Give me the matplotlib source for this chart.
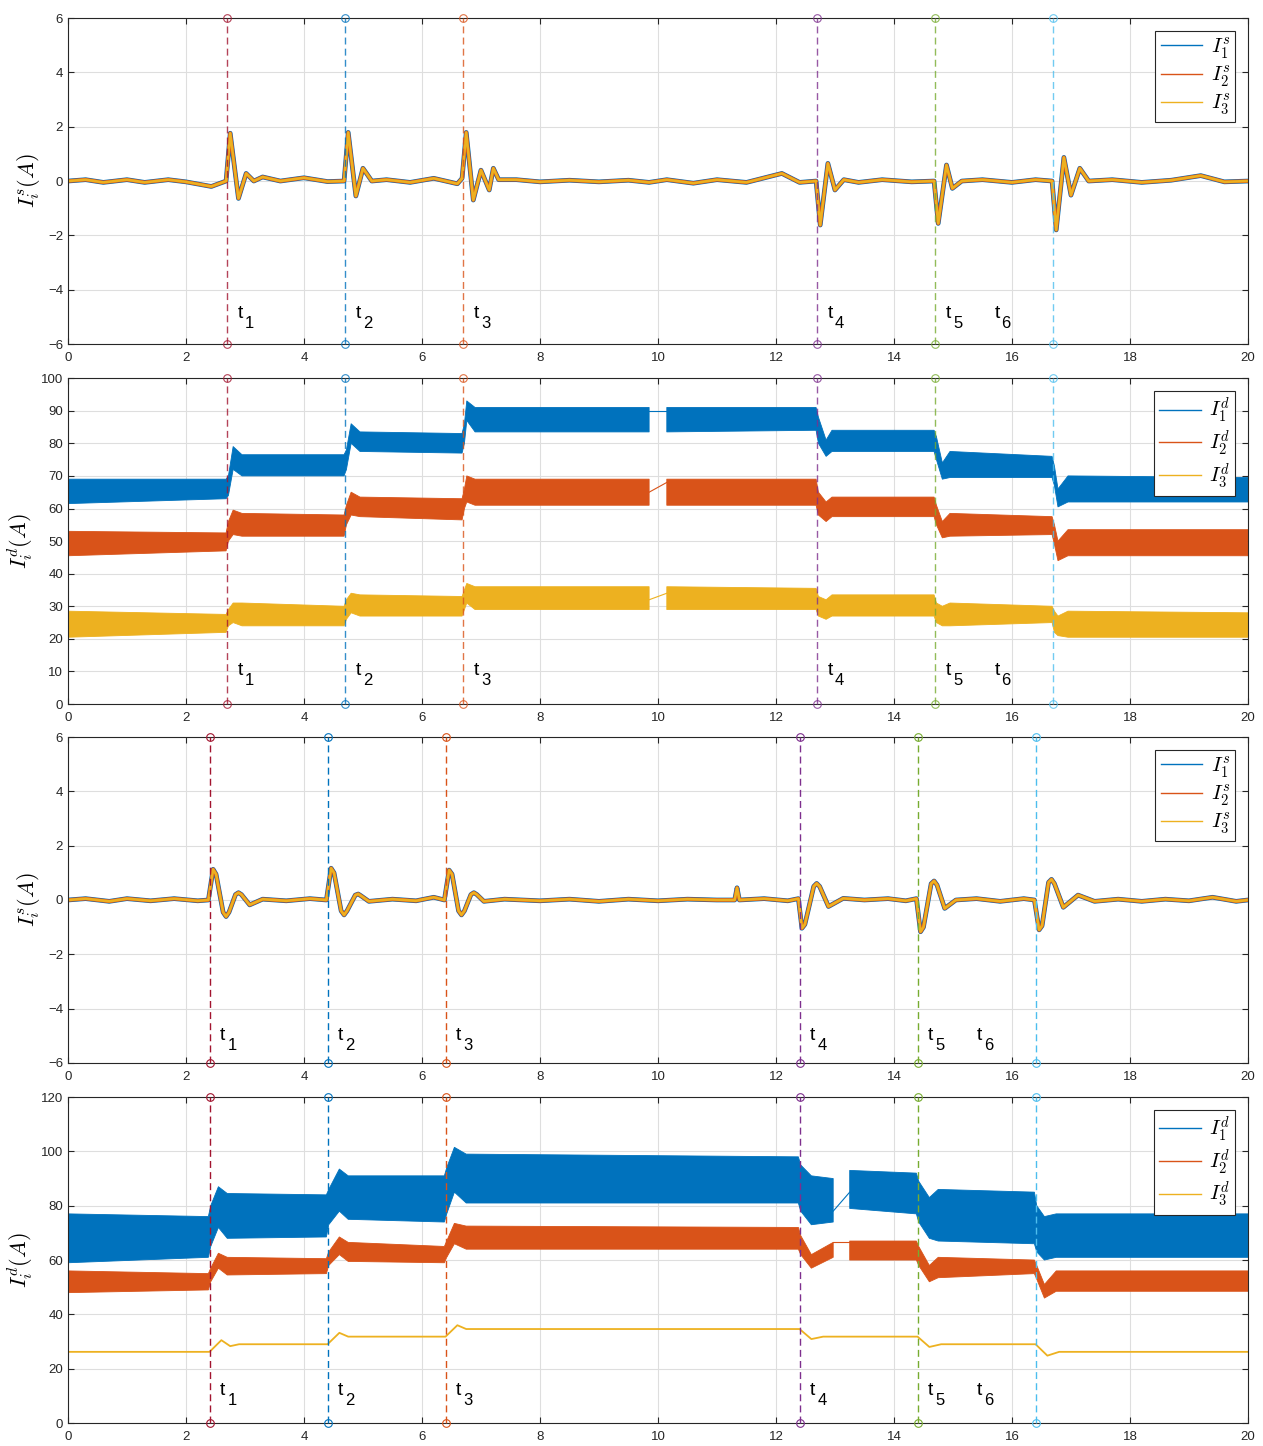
"""Four stacked panels: per-inverter currents I^s and I^d vs time, with the six
load-change instants t1..t6 marked by dashed coloured lines."""
import matplotlib

matplotlib.use("Agg")
import matplotlib.pyplot as plt
import numpy as np
from matplotlib.lines import Line2D

plt.rcParams["font.family"] = ["Liberation Sans", "DejaVu Sans"]
plt.rcParams["mathtext.fontset"] = "cm"

nan = np.nan
C1, C2, C3 = "#0072BD", "#D95319", "#EDB120"
EV_COLORS = ["#A2142F", "#0072BD", "#D95319", "#7E2F8E", "#77AC30", "#4DBEEE"]

# ---- event instants (panels 1-2 and panels 3-4) ----
events_a = [2.7, 4.7, 6.7, 12.7, 14.7, 16.7]
events_b = [2.4, 4.4, 6.4, 12.4, 14.4, 16.4]
label_x_a = [2.88, 4.88, 6.88, 12.88, 14.88, 15.7]
label_x_b = [2.58, 4.58, 6.58, 12.58, 14.58, 15.4]

# ---- panel 1: I^s (three currents overlap within the line width) ----
ts1 = [0, 0.3, 0.6, 1.0, 1.3, 1.7, 2.0, 2.43, 2.68, 2.75, 2.89, 3.02, 3.15, 3.3, 3.6, 4.0, 4.4,
       4.68, 4.75, 4.88, 5.0, 5.15, 5.4, 5.8, 6.2, 6.6, 6.68, 6.75, 6.87, 7.0, 7.14, 7.21, 7.3,
       7.6, 8.0, 8.5, 9.0, 9.5, 9.85, 10.15, 10.6, 11.0, 11.5, 12.1, 12.4, 12.68, 12.75, 12.88,
       13.0, 13.15, 13.4, 13.8, 14.3, 14.68, 14.75, 14.89, 14.99, 15.15, 15.5, 16.0, 16.4, 16.68,
       16.75, 16.88, 17.0, 17.15, 17.3, 17.7, 18.2, 18.7, 19.2, 19.6, 20]
is1 = [0.0, 0.05, -0.05, 0.05, -0.05, 0.05, -0.03, -0.2, 0.0, 1.76, -0.64, 0.28, 0.0, 0.15, 0.0, 0.12, -0.02,
       0.0, 1.79, -0.55, 0.47, 0.0, 0.05, -0.05, 0.1, -0.1, 0.1, 1.79, -0.7, 0.4, -0.33, 0.47, 0.05,
       0.05, -0.03, 0.03, -0.03, 0.03, -0.05, 0.05, -0.08, 0.05, -0.05, 0.28, -0.05, 0.0, -1.62, 0.65,
       -0.33, 0.05, -0.05, 0.05, -0.03, 0.0, -1.56, 0.59, -0.27, 0.0, 0.05, -0.05, 0.05, 0.0,
       -1.8, 0.87, -0.52, 0.47, 0.0, 0.05, -0.05, 0.03, 0.2, -0.03, 0.0]

# ---- panel 2: I^d, noisy -> lower / upper envelope ----
ta = [0, 2.68, 2.72, 2.8, 2.95, 4.68, 4.72, 4.8, 4.95, 6.68, 6.72, 6.76, 6.9, 9.85, 9.9, 10.1, 10.15,
      12.68, 12.72, 12.85, 12.95, 14.68, 14.72, 14.82, 14.95, 16.68, 16.72, 16.78, 16.95, 20]
a_i1_lo = [61.5, 63, 64, 72, 70, 70, 72, 80, 77.5, 77, 80, 87, 83.5, 83.5, nan, nan, 83.5,
           84, 80, 76, 77.5, 77.5, 75, 69, 69.5, 69.5, 67, 60.5, 62, 62]
a_i1_hi = [69, 69, 70, 79, 76.5, 76.5, 78, 86, 83.5, 83, 86, 93, 91, 91, nan, nan, 91,
           91, 88, 81, 84, 84, 82, 74, 77.5, 76, 73, 66, 70, 69.5]
a_i2_lo = [45.5, 47, 50, 52, 51.5, 51.5, 55, 58, 57.5, 56.5, 60, 62, 61, 61, nan, nan, 61,
           61, 58, 56, 57.5, 57.5, 55, 51, 51.5, 52, 49, 44, 45.5, 45.5]
a_i2_hi = [53, 52.5, 56, 59.5, 58.5, 58, 61, 65, 63.5, 63, 66, 70, 69, 69, nan, nan, 69,
           69, 65, 62, 63.5, 63.5, 61, 56, 58.5, 57.5, 55, 50, 53.5, 53.5]
a_i3_lo = [20.5, 22, 24, 25, 24, 24, 26, 28, 27, 27, 29, 31, 29, 29, nan, nan, 29,
           29, 27, 26, 27, 27, 25, 24, 24, 25, 22, 21, 20.5, 20.5]
a_i3_hi = [28.5, 27.5, 29, 31, 31, 30, 32, 34, 33.5, 33, 35, 37, 36, 36, nan, nan, 36,
           35.5, 33, 32, 33.5, 33.5, 31, 30, 31, 30, 28.5, 27, 28.5, 28]
gap_ta = [9.85, 10.15]
gap_a_i1 = [90, 90]
gap_a_i2 = [65, 68]
gap_a_i3 = [32, 34]

# ---- panel 3: I^s ----
ts3 = [0, 0.3, 0.7, 1.0, 1.4, 1.8, 2.2, 2.38, 2.46, 2.51, 2.63, 2.68, 2.73, 2.84, 2.89, 2.94, 3.08,
       3.3, 3.7, 4.1, 4.38, 4.46, 4.51, 4.63, 4.68, 4.73, 4.87, 4.92, 4.97, 5.1, 5.5, 5.9, 6.2,
       6.38, 6.46, 6.51, 6.62, 6.67, 6.72, 6.83, 6.88, 6.93, 7.05, 7.4, 8.0, 8.5, 9.0, 9.5,
       10.0, 10.5, 11.0, 11.3, 11.34, 11.38, 11.8, 12.2, 12.38, 12.44, 12.49, 12.64, 12.69,
       12.74, 12.89, 13.14, 13.5, 13.9, 14.2, 14.38, 14.45, 14.5, 14.63, 14.68, 14.73, 14.86,
       15.05, 15.4, 15.8, 16.2, 16.38, 16.46, 16.51, 16.62, 16.67, 16.72, 16.87, 17.12, 17.4,
       17.8, 18.2, 18.6, 19.0, 19.4, 19.8, 20]
is3 = [0.0, 0.05, -0.05, 0.05, -0.03, 0.05, -0.03, 0.0, 1.13, 0.95, -0.45, -0.61, -0.45, 0.2, 0.27, 0.2, -0.18,
       0.03, -0.03, 0.05, 0.0, 1.17, 1.0, -0.4, -0.55, -0.4, 0.18, 0.22, 0.15, -0.05, 0.03, -0.03, 0.1,
       0.0, 1.1, 0.95, -0.4, -0.55, -0.4, 0.2, 0.27, 0.2, -0.05, 0.03, -0.03, 0.03, -0.05, 0.03,
       -0.03, 0.03, 0.0, 0.0, 0.45, 0.0, 0.05, -0.03, 0.05, -1.04, -0.9, 0.5, 0.61,
       0.5, -0.24, 0.06, 0.0, 0.05, -0.03, 0.05, -1.17, -1.0, 0.6, 0.7, 0.55, -0.31,
       0.0, 0.05, -0.05, 0.05, 0.0, -1.1, -0.95, 0.65, 0.76, 0.6, -0.27, 0.18, -0.05,
       0.03, -0.05, 0.03, -0.03, 0.1, -0.05, 0.0]

# ---- panel 4: I^d ----
tb = [0, 2.38, 2.42, 2.55, 2.7, 4.38, 4.42, 4.6, 4.75, 6.38, 6.42, 6.55, 6.75, 12.38, 12.42, 12.6,
      12.97, 13.0, 13.22, 13.25, 14.38, 14.42, 14.6, 14.75, 16.38, 16.42, 16.55, 16.75, 20]
b_i1_lo = [59, 61, 65, 72, 68, 68.5, 73, 78, 75, 74, 77, 85, 81, 81, 78, 73,
           74, nan, nan, 79, 77, 74, 68, 67, 66, 63, 60, 61, 61]
b_i1_hi = [77, 76, 80, 87, 84.5, 84, 86, 93.5, 91, 91, 94, 101.5, 99, 98, 95, 91,
           90, nan, nan, 93, 92, 89, 83, 86, 85, 80, 76, 77, 77]
b_i2_lo = [48, 49, 52, 57, 54.5, 55, 58, 62, 59.5, 59, 61, 66, 64, 64, 62, 57,
           61, nan, nan, 60, 60, 58, 52, 53.5, 55, 53, 46, 48.5, 48.5]
b_i2_hi = [56, 55, 57, 62.5, 61, 60.5, 63, 68.5, 66.5, 65, 67, 73.5, 72.5, 72, 69, 62,
           66.5, nan, nan, 67, 67, 65, 58, 61, 60, 58, 51, 56, 56]
gap_tb = [12.97, 13.25]
gap_b_i1 = [78, 85]
gap_b_i2 = [66.5, 66.5]
tb3 = [0, 2.4, 2.6, 2.75, 2.9, 4.4, 4.6, 4.75, 6.4, 6.6, 6.75, 12.4, 12.6, 12.8,
       14.4, 14.6, 14.8, 16.4, 16.6, 16.8, 20]
b_i3 = [26.2, 26.2, 30.5, 28.3, 29, 29, 33.2, 31.8, 31.8, 36, 34.6, 34.6, 30.9, 31.8,
        31.8, 28, 29, 29, 24.8, 26.2, 26.2]


def style_axes(ax, ylim, yticks):
    ax.set_xlim(0, 20)
    ax.set_ylim(*ylim)
    ax.set_xticks(np.arange(0, 21, 2))
    ax.set_yticks(yticks)
    ax.grid(True, color="#dedede", lw=0.8)
    ax.set_axisbelow(True)
    ax.tick_params(direction="in", top=True, right=True, length=4, width=0.8,
                   colors="#262626", labelsize=9.5)
    ax.tick_params(axis="x", pad=6)
    for s in ax.spines.values():
        s.set_color("#262626")
        s.set_linewidth(0.8)


def draw_events(ax, times, ylim, label_x, label_y, alpha):
    for i, t in enumerate(times):
        ax.plot([t, t], ylim, color=EV_COLORS[i], ls=(0, (5, 3)), lw=1.0, alpha=alpha,
                marker="o", mfc="none", ms=5.5, mew=0.8, clip_on=False, zorder=5)
        ax.text(label_x[i], label_y, "t", fontsize=14, zorder=6)
        ax.annotate(str(i + 1), xy=(label_x[i], label_y), xytext=(5.2, -7),
                    textcoords="offset points", fontsize=12, zorder=6)


def plot_is(ax, t, v):
    # the three currents lie on top of each other; widths show each colour's edge
    ax.plot(t, v, color=C1, lw=3.4)
    ax.plot(t, v, color=C2, lw=2.7)
    ax.plot(t, v, color=C3, lw=1.9)


def add_legend(ax, sup):
    handles = [Line2D([], [], color=c, lw=1) for c in (C1, C2, C3)]
    labels = [rf"$I_{k}^{sup}$" for k in (1, 2, 3)]
    leg = ax.legend(handles, labels, loc="upper right", fontsize=15, fancybox=False,
                    framealpha=1, edgecolor="#262626", handlelength=2.0, handletextpad=0.4,
                    labelspacing=0.15, borderpad=0.25, borderaxespad=0.6)
    leg.get_frame().set_linewidth(0.8)


fig = plt.figure(figsize=(12.63, 14.46), dpi=100)
L, W, H = 0.0538, 0.9343, 0.2254
ax1 = fig.add_axes([L, 0.7621, W, H])
ax2 = fig.add_axes([L, 0.5131, W, H])
ax3 = fig.add_axes([L, 0.2649, W, H])
ax4 = fig.add_axes([L, 0.0159, W, H])

# panel 1
style_axes(ax1, (-6, 6), np.arange(-6, 7, 2))
plot_is(ax1, ts1, is1)
draw_events(ax1, events_a, (-6, 6), label_x_a, -5.05, 0.8)
ax1.set_ylabel(r"$I_i^s(A)$", fontsize=16)
add_legend(ax1, "s")

# panel 2
style_axes(ax2, (0, 100), np.arange(0, 101, 10))
for lo, hi, gap, c in ((a_i1_lo, a_i1_hi, gap_a_i1, C1), (a_i2_lo, a_i2_hi, gap_a_i2, C2),
                       (a_i3_lo, a_i3_hi, gap_a_i3, C3)):
    ax2.fill_between(ta, lo, hi, color=c, lw=0.6)
    ax2.plot(gap_ta, gap, color=c, lw=0.8)
draw_events(ax2, events_a, (0, 100), label_x_a, 8.9, 0.8)
ax2.set_ylabel(r"$I_i^d(A)$", fontsize=16)
add_legend(ax2, "d")

# panel 3
style_axes(ax3, (-6, 6), np.arange(-6, 7, 2))
plot_is(ax3, ts3, is3)
draw_events(ax3, events_b, (-6, 6), label_x_b, -5.15, 1.0)
ax3.set_ylabel(r"$I_i^s(A)$", fontsize=16)
add_legend(ax3, "s")

# panel 4
style_axes(ax4, (0, 120), np.arange(0, 121, 20))
for lo, hi, gap, c in ((b_i1_lo, b_i1_hi, gap_b_i1, C1), (b_i2_lo, b_i2_hi, gap_b_i2, C2)):
    ax4.fill_between(tb, lo, hi, color=c, lw=0.6)
    ax4.plot(gap_tb, gap, color=c, lw=0.8)
ax4.plot(tb3, b_i3, color=C3, lw=1.3)
draw_events(ax4, events_b, (0, 120), label_x_b, 10.3, 1.0)
ax4.set_ylabel(r"$I_i^d(A)$", fontsize=16)
add_legend(ax4, "d")

fig.savefig("out.png", dpi=100)
